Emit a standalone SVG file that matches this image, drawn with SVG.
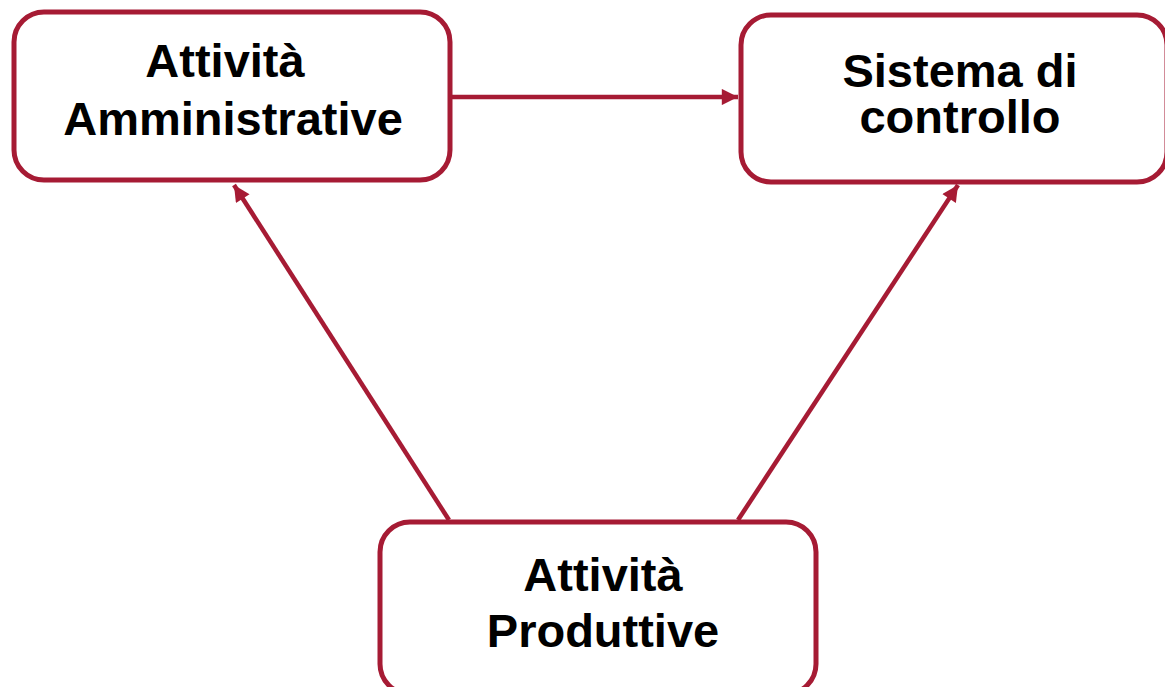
<svg xmlns="http://www.w3.org/2000/svg" width="1165" height="687" viewBox="0 0 1165 687">
<style>
.box{fill:#fff;stroke:#A61B34;stroke-width:5}
.lbl{font-family:"Liberation Sans",Arial,sans-serif;font-weight:bold;font-size:47px;fill:#000;text-anchor:middle}
.edge{stroke:#A61B34;stroke-width:4.5;fill:none}
</style>
<defs>
<marker id="ah" viewBox="0 0 10 10" refX="10" refY="5" markerWidth="4.2" markerHeight="3.6" markerUnits="strokeWidth" orient="auto">
<path d="M0,0 L10,5 L0,10 z" fill="#A61B34"/>
</marker>
</defs>
<rect width="1165" height="687" fill="#fff"/>
<g id="connectors">
<line class="edge" x1="452" y1="97" x2="738" y2="97" marker-end="url(#ah)"/>
<line class="edge" x1="449" y1="520" x2="234" y2="185" marker-end="url(#ah)"/>
<line class="edge" x1="738" y1="520" x2="958" y2="185" marker-end="url(#ah)"/>
</g>
<g id="n1">
<rect class="box" x="14" y="12" width="436" height="168" rx="30"/>
<text class="lbl" x="225" y="77">Attività</text>
<text class="lbl" x="233" y="135">Amministrative</text>
</g>
<g id="n2">
<rect class="box" x="741" y="15" width="426" height="167" rx="30"/>
<text class="lbl" x="960" y="87">Sistema di</text>
<text class="lbl" x="960" y="133">controllo</text>
</g>
<g id="n3">
<rect class="box" x="380" y="522" width="436" height="172" rx="30"/>
<text class="lbl" x="603" y="591">Attività</text>
<text class="lbl" x="603" y="647">Produttive</text>
</g>
</svg>
